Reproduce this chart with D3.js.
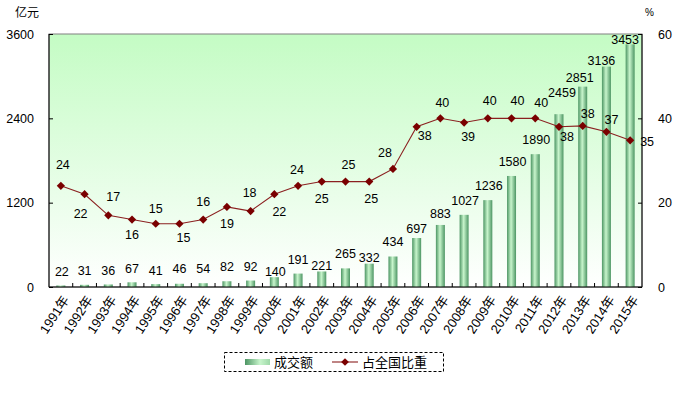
<!DOCTYPE html>
<html>
<head>
<meta charset="utf-8">
<script src="https://cdn.jsdelivr.net/npm/d3@7"></script>
<style>
body { margin: 0; background: #fff; }
svg text { font-family: "Liberation Sans", "Noto Sans CJK SC", sans-serif; fill: #000; }
</style>
</head>
<body>
<svg width="679" height="398"></svg>
<script>
// data
var years = ['1991年','1992年','1993年','1994年','1995年','1996年','1997年','1998年','1999年','2000年',
    '2001年','2002年','2003年','2004年','2005年','2006年','2007年','2008年','2009年','2010年',
    '2011年','2012年','2013年','2014年','2015年'];
var amount = [22,31,36,67,41,46,54,82,92,140,191,221,265,332,434,697,883,1027,1236,1580,1890,2459,2851,3136,3453];
var share = [24,22,17,16,15,15,16,19,18,22,24,25,25,25,28,38,40,39,40,40,40,38,38.2,36.8,34.8];
var shareText = ['24','22','17','16','15','15','16','19','18','22','24','25','25','25','28','38','40','39','40','40','40','38','38','37','35'];
var leftTicks = [0,1200,2400,3600];
var rightTicks = [0,20,40,60];

// where each label sits relative to its mark (as placed in the original)
var shareLabelShift = [[2,-21],[-4,19],[5,-19],[0,15],[0,-15],[4,14],[0,-18],[0,17],[-1,-19],[5,17],
    [-1,-16],[0,17],[3,-17],[2,17],[-8,-16],[8,9],[2,-16],[4,14],[2,-18],[6,-18],
    [6,-16],[8,10],[5,-12],[5,-12],[17,1]];
var barLabelShift = [[1,9.5],[0,10],[0,9.5],[0,9],[0,9],[0,11],[0,10],[0,10],[0,9.5],[1,1],
    [0,10],[0,1.5],[0,10],[0,2],[0,10],[0,5],[0,6.5],[1,10],[1,10],[1,10],
    [1,10],[3,17.5],[-3,5],[-5,1.6],[-5,0.3]];

var svg = d3.select('svg');
var plotLeft = 49, plotRight = 642, plotTop = 34, plotBottom = 287;

var x = d3.scaleBand().domain(years).range([plotLeft, plotRight]);
var yL = d3.scaleLinear().domain([0,3600]).range([plotBottom, plotTop]);
var yR = d3.scaleLinear().domain([0,60]).range([plotBottom, plotTop]);
function cx(i) { return x(years[i]) + x.bandwidth()/2; }

var defs = svg.append('defs');
var bg = defs.append('linearGradient').attr('id','bg').attr('x1',0).attr('y1',0).attr('x2',0).attr('y2',1);
bg.append('stop').attr('offset','0%').attr('stop-color','#c4fcc4');
bg.append('stop').attr('offset','100%').attr('stop-color','#ffffff');

var barG = defs.append('linearGradient').attr('id','barg').attr('x1',0).attr('y1',0).attr('x2',1).attr('y2',0);
barG.append('stop').attr('offset','0%').attr('stop-color','#4c9563');
barG.append('stop').attr('offset','45%').attr('stop-color','#c8f5cc');
barG.append('stop').attr('offset','100%').attr('stop-color','#4c9563');

var legG = defs.append('linearGradient').attr('id','legg').attr('x1',0).attr('y1',0).attr('x2',1).attr('y2',0);
legG.append('stop').attr('offset','0%').attr('stop-color','#4c9563');
legG.append('stop').attr('offset','60%').attr('stop-color','#c8f5cc');
legG.append('stop').attr('offset','100%').attr('stop-color','#9ed8a8');

// plot background
svg.append('rect')
    .attr('x', plotLeft).attr('y', plotTop)
    .attr('width', plotRight-plotLeft).attr('height', plotBottom-plotTop)
    .attr('fill','url(#bg)')
    .attr('stroke','#808080').attr('stroke-width',1);

// bars
var bw = 9;
svg.selectAll('.bar')
    .data(amount)
    .enter()
    .append('rect')
    .attr('class','bar')
    .attr('x', function(d,i){ return cx(i) - bw/2; })
    .attr('y', function(d){ return yL(d); })
    .attr('width', bw)
    .attr('height', function(d){ return plotBottom - yL(d); })
    .attr('fill','url(#barg)');

svg.selectAll('.barlabel')
    .data(amount)
    .enter()
    .append('text')
    .attr('x', function(d,i){ return cx(i) + barLabelShift[i][0]; })
    .attr('y', function(d,i){ return yL(d) - barLabelShift[i][1]; })
    .attr('text-anchor','middle')
    .style('font-size','12.5px')
    .text(function(d){ return d; });

// axes
var axL = svg.append('g').attr('transform','translate(' + plotLeft + ',0)')
    .call(d3.axisLeft(yL).tickValues(leftTicks).tickFormat(d3.format('d')).tickSize(4).tickPadding(11));
var axR = svg.append('g').attr('transform','translate(' + plotRight + ',0)')
    .call(d3.axisRight(yR).tickValues(rightTicks).tickFormat(d3.format('d')).tickSize(4).tickPadding(12));
[axL, axR].forEach(function(a){
    a.select('.domain').remove();
    a.selectAll('.tick line').attr('stroke','#000');
    a.selectAll('text').style('font-size','12.5px').style('font-family','"Liberation Sans", sans-serif');
});
axL.selectAll('.tick line').attr('x2', 4);
axR.selectAll('.tick line').attr('x2', -4);
svg.append('line').attr('x1',plotLeft).attr('x2',plotLeft).attr('y1',plotTop).attr('y2',plotBottom).attr('stroke','#000');
svg.append('line').attr('x1',plotRight).attr('x2',plotRight).attr('y1',plotTop).attr('y2',plotBottom).attr('stroke','#000');

// bottom axis with tick marks between categories
var bx = svg.append('g');
bx.append('line').attr('x1',plotLeft).attr('x2',plotRight).attr('y1',plotBottom).attr('y2',plotBottom).attr('stroke','#000');
bx.selectAll('.tk')
    .data(years.slice(1))
    .enter()
    .append('line')
    .attr('x1', function(d){ return x(d); })
    .attr('x2', function(d){ return x(d); })
    .attr('y1', plotBottom).attr('y2', plotBottom - 4)
    .attr('stroke','#000');
bx.selectAll('.xl')
    .data(years)
    .enter()
    .append('text')
    .attr('transform', function(d,i){ return 'translate(' + (cx(i) + 5) + ',' + (plotBottom + 10) + ') rotate(-57)'; })
    .attr('text-anchor','end')
    .attr('dy','0.35em')
    .style('font-size','13px')
    .text(function(d){ return d; });

// line for share
var line = d3.line()
    .x(function(d,i){ return cx(i); })
    .y(function(d){ return yR(d); });
svg.append('path')
    .datum(share)
    .attr('d', line)
    .attr('fill','none')
    .attr('stroke','#8b2020')
    .attr('stroke-width',1.1);

svg.selectAll('.pt')
    .data(share)
    .enter()
    .append('path')
    .attr('d', d3.symbol().type(d3.symbolSquare).size(34))
    .attr('transform', function(d,i){ return 'translate(' + cx(i) + ',' + yR(d) + ') rotate(45)'; })
    .attr('fill','#7a0000');

svg.selectAll('.ptlabel')
    .data(share)
    .enter()
    .append('text')
    .attr('x', function(d,i){ return cx(i) + shareLabelShift[i][0]; })
    .attr('y', function(d,i){ return yR(d) + shareLabelShift[i][1]; })
    .attr('dy','0.36em')
    .attr('text-anchor','middle')
    .style('font-size','12.5px')
    .text(function(d,i){ return shareText[i]; });

// axis titles
svg.append('text').attr('x',15).attr('y',17).style('font-size','12px')
    .style('font-family','"Noto Sans CJK SC", sans-serif').text('亿元');
svg.append('text').attr('x',645).attr('y',16).style('font-size','10px').text('%');

// legend
var lg = svg.append('g');
lg.append('rect').attr('x',224.5).attr('y',352.5).attr('width',219).attr('height',19)
    .attr('fill','#fff').attr('stroke','#000').attr('stroke-dasharray','3,2');
lg.append('rect').attr('x',245).attr('y',359).attr('width',25).attr('height',6).attr('fill','url(#legg)');
lg.append('text').attr('x',274).attr('y',367).style('font-size','13px')
    .style('font-family','"Noto Sans CJK SC", sans-serif').text('成交额');
lg.append('line').attr('x1',332).attr('x2',358).attr('y1',362).attr('y2',362).attr('stroke','#8b2020').attr('stroke-width',1.1);
lg.append('path').attr('d', d3.symbol().type(d3.symbolSquare).size(30)).attr('transform','translate(345,362) rotate(45)').attr('fill','#7a0000');
lg.append('text').attr('x',362).attr('y',367).style('font-size','13px')
    .style('font-family','"Noto Sans CJK SC", sans-serif').text('占全国比重');
</script>
</body>
</html>
